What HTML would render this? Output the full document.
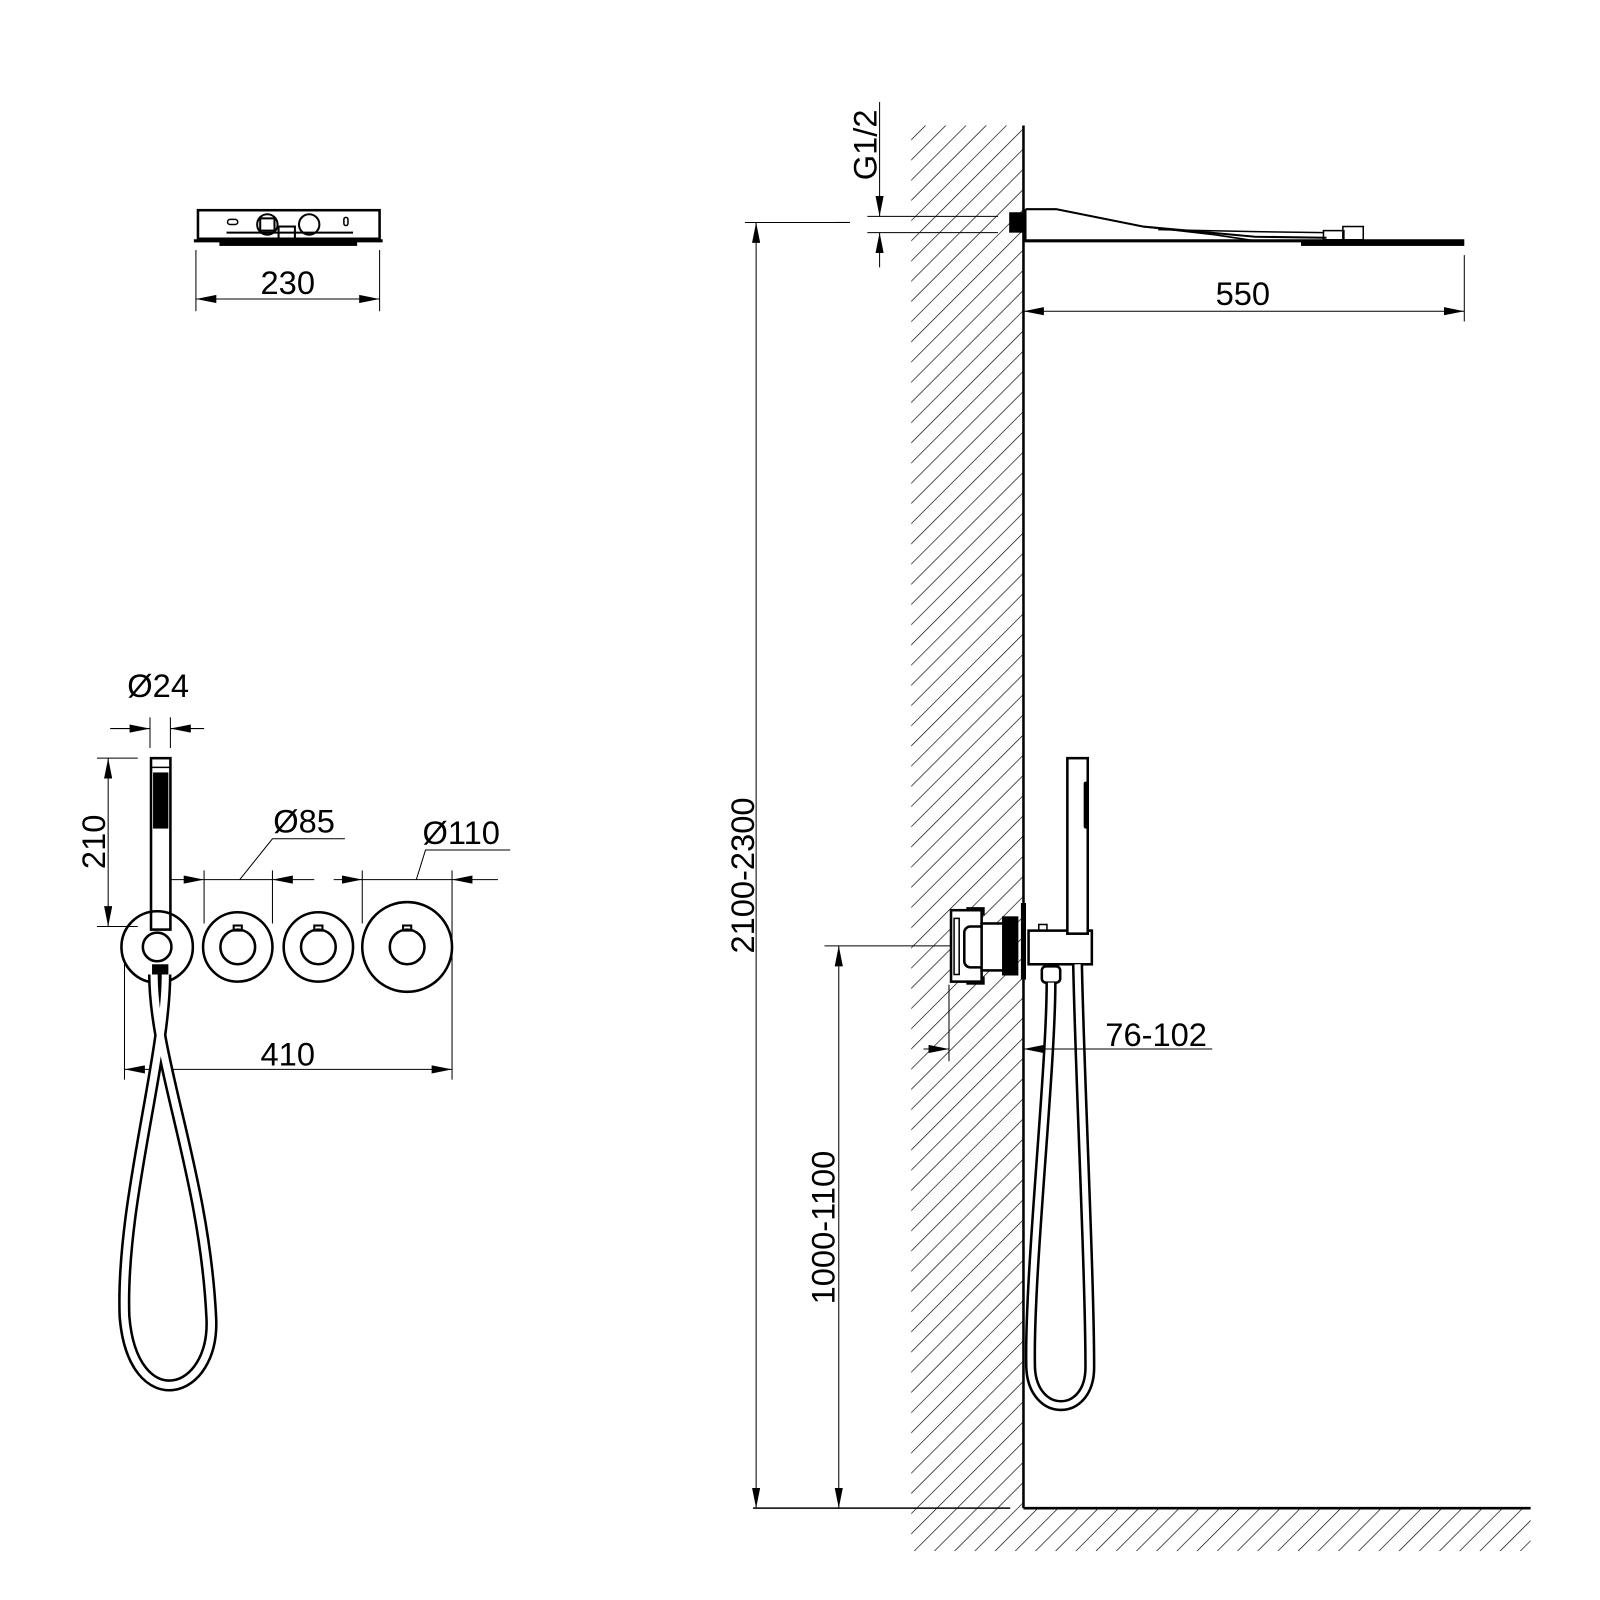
<!DOCTYPE html>
<html><head><style>html,body{margin:0;padding:0;background:#fff}svg{display:block}</style></head><body>
<svg width="1600" height="1600" viewBox="0 0 1568 1568" xmlns="http://www.w3.org/2000/svg" font-family="Liberation Sans, sans-serif">
<defs>
<pattern id="h" patternUnits="userSpaceOnUse" width="14" height="14" patternTransform="rotate(45)">
<line x1="0" y1="0" x2="0" y2="14" stroke="#000" stroke-width="1.3"/>
</pattern>
<marker id="a" viewBox="0 0 20 8" refX="20" refY="4" markerWidth="20" markerHeight="8" markerUnits="userSpaceOnUse" orient="auto-start-reverse"><path d="M0,0 L20,4 L0,8z" fill="#000"/></marker>
</defs>
<g stroke="#000" fill="none">
<rect x="893" y="123" width="110" height="1355" fill="url(#h)" stroke="none"/>
<rect x="893" y="1478" width="607" height="42" fill="url(#h)" stroke="none"/>
<line x1="1003" y1="123" x2="1003" y2="1478" stroke-width="2.5"/>
<line x1="1003" y1="1478" x2="1500" y2="1478" stroke-width="2.5"/>
<line x1="738" y1="1478" x2="990" y2="1478" stroke-width="1.5"/>

<rect x="194" y="206" width="178" height="28" stroke-width="2.5"/>
<line x1="190" y1="236" x2="375" y2="236" stroke-width="3"/>
<rect x="215" y="236" width="135" height="5" fill="#000" stroke="none"/>
<line x1="222" y1="228" x2="346" y2="228" stroke-width="2"/>
<circle cx="262" cy="220" r="10" stroke-width="2"/>
<circle cx="303" cy="220" r="10" stroke-width="2"/>
<rect x="255" y="214" width="14" height="12" stroke-width="2"/>
<rect x="273" y="222" width="16" height="12" stroke-width="2"/>
<rect x="223" y="215" width="10" height="5" rx="2.5" stroke-width="1.5"/>
<rect x="337" y="213" width="4" height="8" rx="2" stroke-width="1.5"/>
<line x1="192" y1="245" x2="192" y2="305" stroke-width="1"/>
<line x1="372" y1="245" x2="372" y2="305" stroke-width="1"/>
<line x1="192" y1="293" x2="372" y2="293" stroke-width="1" marker-start="url(#a)" marker-end="url(#a)"/>

<line x1="108" y1="714" x2="147" y2="714" stroke-width="1" marker-end="url(#a)"/>
<line x1="200" y1="714" x2="167" y2="714" stroke-width="1" marker-end="url(#a)"/>
<line x1="147" y1="703" x2="147" y2="733" stroke-width="1"/>
<line x1="167" y1="703" x2="167" y2="733" stroke-width="1"/>
<rect x="148" y="743" width="19" height="168" stroke-width="2.5"/>
<line x1="148" y1="752" x2="167" y2="752" stroke-width="1.5"/>
<rect x="150" y="757" width="15" height="55" fill="#000" stroke="none"/>
<line x1="95" y1="743" x2="135" y2="743" stroke-width="1"/>
<line x1="95" y1="908" x2="135" y2="908" stroke-width="1"/>
<line x1="106" y1="743" x2="106" y2="908" stroke-width="1" marker-start="url(#a)" marker-end="url(#a)"/>
<circle cx="154" cy="928" r="35" stroke-width="2.5"/>
<circle cx="154" cy="928" r="14" stroke-width="2.5"/>
<circle cx="233" cy="928" r="34" stroke-width="2.5"/>
<circle cx="233" cy="928" r="17" stroke-width="2.5"/>
<rect x="229" y="907" width="8" height="5" stroke-width="2"/>
<circle cx="312" cy="928" r="34" stroke-width="2.5"/>
<circle cx="312" cy="928" r="17" stroke-width="2.5"/>
<rect x="308" y="907" width="8" height="5" stroke-width="2"/>
<circle cx="399" cy="928" r="44" stroke-width="2.5"/>
<circle cx="399" cy="928" r="17" stroke-width="2.5"/>
<rect x="395" y="907" width="8" height="5" stroke-width="2"/>
<line x1="200" y1="853" x2="200" y2="905" stroke-width="1"/>
<line x1="267" y1="853" x2="267" y2="905" stroke-width="1"/>
<line x1="167" y1="862" x2="200" y2="862" stroke-width="1" marker-end="url(#a)"/>
<line x1="308" y1="862" x2="267" y2="862" stroke-width="1" marker-end="url(#a)"/>
<line x1="200" y1="862" x2="267" y2="862" stroke-width="1"/>
<polyline points="235,862 267,822 338,822" stroke-width="1"/>
<line x1="355" y1="853" x2="355" y2="905" stroke-width="1"/>
<line x1="443" y1="853" x2="443" y2="1058" stroke-width="1"/>
<line x1="327" y1="862" x2="355" y2="862" stroke-width="1" marker-end="url(#a)"/>
<line x1="488" y1="862" x2="443" y2="862" stroke-width="1" marker-end="url(#a)"/>
<line x1="355" y1="862" x2="443" y2="862" stroke-width="1"/>
<polyline points="408,862 417,833 500,833" stroke-width="1"/>
<line x1="122" y1="940" x2="122" y2="1058" stroke-width="1"/>
<line x1="122" y1="1048" x2="443" y2="1048" stroke-width="1" marker-start="url(#a)" marker-end="url(#a)"/>
<rect x="149" y="945" width="16" height="15" fill="#000" stroke="none"/>
<path d="M151,955 C151,1040 200,1150 207,1290 C212,1370 130,1390 122,1290 C118,1180 162,1040 162,955" stroke-width="12"/>
<path d="M151,955 C151,1040 200,1150 207,1290 C212,1370 130,1390 122,1290 C118,1180 162,1040 162,955" stroke="#fff" stroke-width="7"/>

<rect x="989" y="208" width="14" height="20" fill="#000" stroke="none"/>
<path d="M1005,205 L1035,205 L1120,222 L1230,232 L1300,233" stroke-width="2"/>
<path d="M1120,222 L1190,230 L1230,236" stroke-width="1.5"/>
<path d="M1135,225 L1230,227 L1297,228" stroke-width="1.5"/>
<line x1="1005" y1="205" x2="1005" y2="236" stroke-width="2"/>
<rect x="1297" y="226" width="20" height="9" stroke-width="1.5"/>
<rect x="1316" y="222" width="20" height="13" stroke-width="1.5"/>
<line x1="1003" y1="236" x2="1435" y2="236" stroke-width="3"/>
<rect x="1275" y="237" width="160" height="4" fill="#000" stroke="none"/>
<line x1="862" y1="100" x2="862" y2="212" stroke-width="1" marker-end="url(#a)"/>
<line x1="862" y1="262" x2="862" y2="228" stroke-width="1" marker-end="url(#a)"/>
<line x1="850" y1="212" x2="978" y2="212" stroke-width="1"/>
<line x1="850" y1="228" x2="978" y2="228" stroke-width="1"/>
<line x1="820" y1="218" x2="833" y2="218" stroke-width="1"/>
<line x1="1435" y1="250" x2="1435" y2="315" stroke-width="1"/>
<line x1="1003" y1="305" x2="1435" y2="305" stroke-width="1" marker-start="url(#a)" marker-end="url(#a)"/>
<line x1="730" y1="218" x2="833" y2="218" stroke-width="1"/>
<line x1="741" y1="218" x2="741" y2="1478" stroke-width="1" marker-start="url(#a)" marker-end="url(#a)"/>
<line x1="808" y1="927" x2="935" y2="927" stroke-width="1"/>
<line x1="822" y1="927" x2="822" y2="1478" stroke-width="1" marker-start="url(#a)" marker-end="url(#a)"/>
<rect x="948" y="890" width="16" height="6" fill="#fff" stroke-width="2"/>
<rect x="948" y="958" width="16" height="6" fill="#fff" stroke-width="2"/>
<rect x="932" y="892" width="30" height="70" fill="#fff" stroke-width="2.5"/>
<rect x="935" y="900" width="5" height="55" stroke-width="1.5"/>
<rect x="945" y="908" width="22" height="40" rx="6" fill="#fff" stroke-width="2.5"/>
<rect x="962" y="905" width="24" height="46" fill="#fff" stroke-width="2.5"/>
<rect x="982" y="898" width="16" height="58" fill="#000" stroke="none"/>
<line x1="1003" y1="885" x2="1003" y2="960" stroke-width="5"/>
<rect x="1008" y="912" width="62" height="33" fill="#fff" stroke-width="2.5"/>
<rect x="1018" y="906" width="8" height="6" stroke-width="1.5"/>
<rect x="1046" y="743" width="20" height="172" fill="#fff" stroke-width="2.5"/>
<rect x="1062" y="766" width="5" height="46" rx="2" fill="#000" stroke="none"/>
<rect x="1021" y="947" width="18" height="16" rx="4" stroke-width="2.5"/>
<path d="M1030,963 C1030,1050 1008,1250 1010,1340 C1012,1390 1068,1390 1068,1340 C1068,1250 1058,1050 1056,945" stroke-width="11"/>
<path d="M1030,963 C1030,1050 1008,1250 1010,1340 C1012,1390 1068,1390 1068,1340 C1068,1250 1058,1050 1056,945" stroke="#fff" stroke-width="6"/>
<line x1="930" y1="965" x2="930" y2="1040" stroke-width="1"/>
<line x1="905" y1="1028" x2="930" y2="1028" stroke-width="1" marker-end="url(#a)"/>
<line x1="1188" y1="1028" x2="1003" y2="1028" stroke-width="1" marker-end="url(#a)"/>
</g>
<g font-size="32" fill="#000" text-anchor="middle">
<text x="282" y="288">230</text>
<text x="155" y="683">Ø24</text>
<text x="298" y="816">Ø85</text>
<text x="452" y="827">Ø110</text>
<text x="282" y="1044">410</text>
<text x="1218" y="299">550</text>
<text x="1133" y="1025">76-102</text>
<text transform="translate(103,825) rotate(-90)">210</text>
<text transform="translate(859,142) rotate(-90)">G1/2</text>
<text transform="translate(739,858) rotate(-90)">2100-2300</text>
<text transform="translate(818,1203) rotate(-90)">1000-1100</text>
</g>
</svg>
</body></html>
